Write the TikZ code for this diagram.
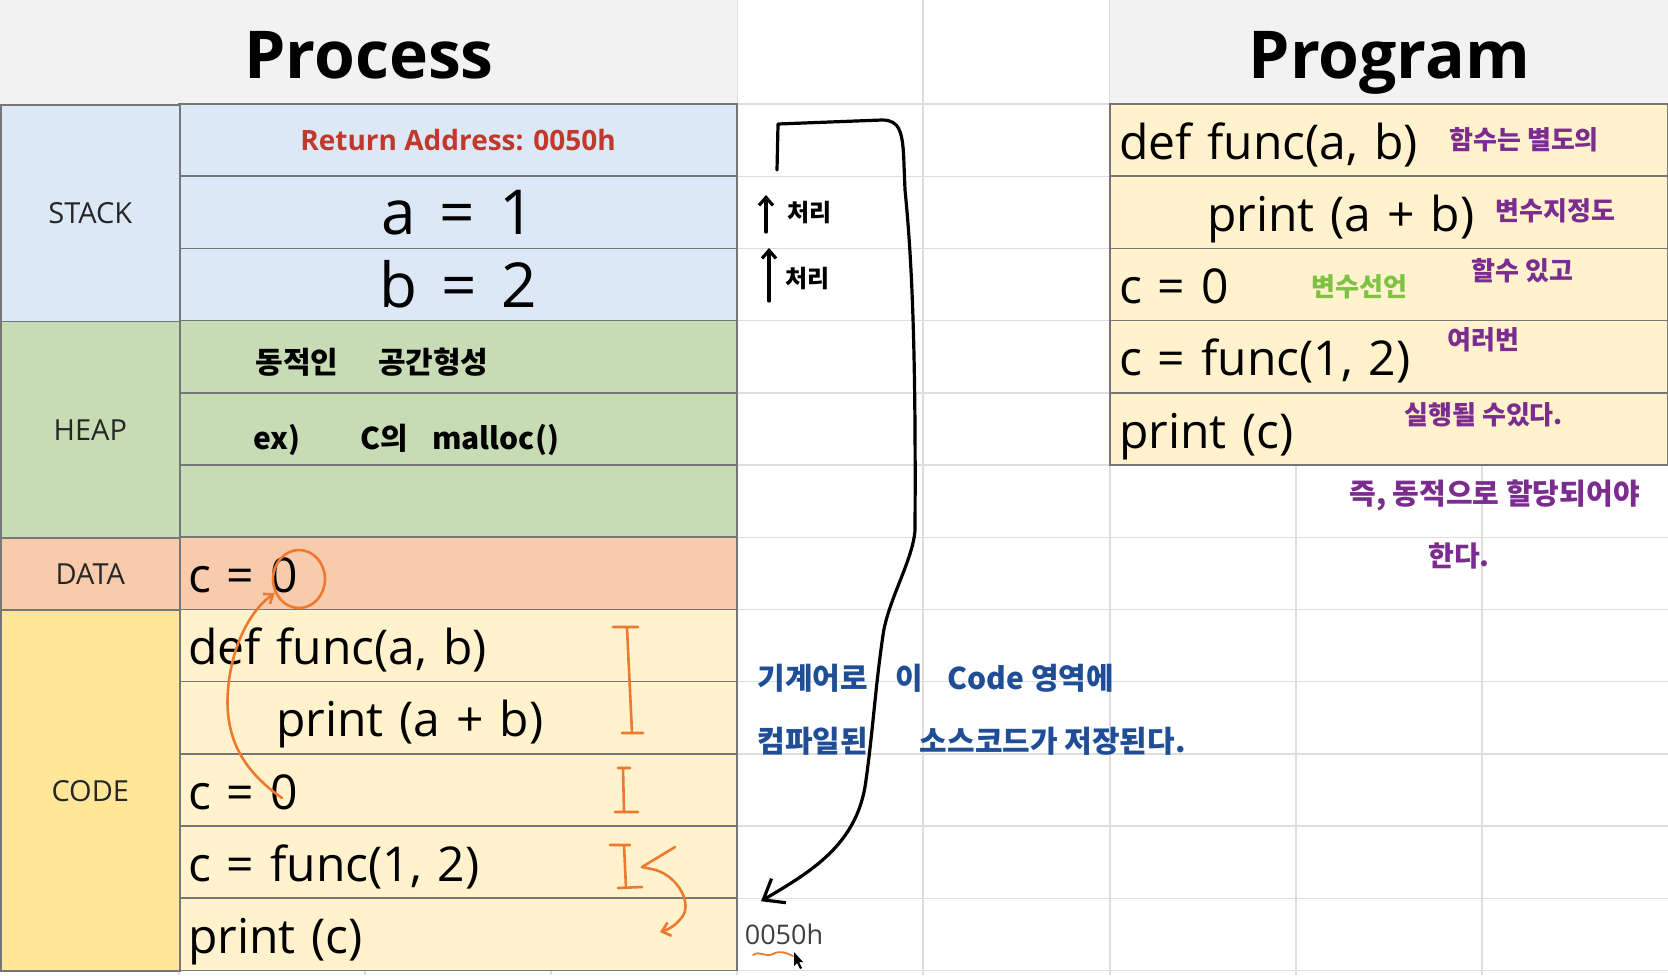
\documentclass[tikz,border=0pt]{standalone}
\usepackage{fontspec}
\setmainfont{Open Sans}
\newfontfamily\kor{Noto Sans CJK KR}
\usetikzlibrary{shapes.geometric, arrows.meta}

\definecolor{hdrgray}{HTML}{F2F2F2}
\definecolor{stackblue}{HTML}{DDE8F7}
\definecolor{heapgreen}{HTML}{C7DBB4}
\definecolor{dataorange}{HTML}{F8CBAD}
\definecolor{codegold}{HTML}{FFE699}
\definecolor{cream}{HTML}{FFF2CC}
\definecolor{cellline}{HTML}{767676}
\definecolor{sheetgray}{HTML}{DEDEDE}
\definecolor{retred}{HTML}{C0392B}
\definecolor{penorange}{HTML}{EC7A30}
\definecolor{penblue}{HTML}{1F4E96}
\definecolor{penpurple}{HTML}{7B2C8F}
\definecolor{pengreen}{HTML}{7DC243}

\tikzstyle{sheetline} = [draw=sheetgray, line width=0.7pt]
\tikzstyle{cell} = [rectangle, draw=cellline, line width=0.8pt, minimum width=279pt, minimum height=36.1pt, inner sep=0pt, outer sep=0pt]
\tikzstyle{stackcell} = [cell, fill=stackblue]
\tikzstyle{heapcell} = [cell, fill=heapgreen]
\tikzstyle{codecell} = [cell, fill=cream, text width=270pt, align=left, inner xsep=4.5pt, text height=25.2pt, text depth=6pt, font=\fontsize{24}{28}\selectfont]
\tikzstyle{lbl} = [rectangle, draw=cellline, line width=0.8pt, minimum width=89.5pt, inner sep=0pt, text=black!85, font=\fontsize{14.5}{16}\selectfont]
\tikzstyle{hdr} = [rectangle, fill=hdrgray, minimum height=52pt, inner sep=0pt, text height=33pt, text depth=7.3pt, font=\bfseries\fontsize{33}{36}\selectfont]
\tikzstyle{ink} = [inner sep=0pt, anchor=west, font=\kor\bfseries\fontsize{15}{17}\selectfont]
\tikzstyle{note} = [ink, text=penpurple, font=\kor\bfseries\fontsize{13}{15}\selectfont]
\tikzstyle{pen} = [line width=1.6pt, line cap=round, line join=round]
\tikzstyle{orangepen} = [pen, draw=penorange, line width=1.3pt]

\begin{document}
\begin{tikzpicture}[x=0.5pt, y=-0.5pt, node distance=36.1pt]
	\clip (0,0) rectangle (1668,975);
	\fill[white] (0,0) rectangle (1668,975);
	% spreadsheet grid
	\foreach \ry in {0,...,12}
		\draw[sheetline] (0,{104+72.2*\ry}) -- (1668,{104+72.2*\ry});
	\foreach \cx in {179,365,551,737,923,1110,1296,1482}
		\draw[sheetline] (\cx,0) -- (\cx,975);

	% process side
	\node (proc) [hdr, minimum width=368.5pt, anchor=north west] at (0,0) {Process};
	\node (ret) [stackcell, anchor=north west, text=retred, font=\bfseries\fontsize{14}{16}\selectfont] at (179,104) {Return Address: 0050h};
	\node (vara) [stackcell, below of=ret, font=\fontsize{31}{34}\selectfont] {a\hspace{12pt}=\hspace{12pt}1};
	\node (varb) [stackcell, below of=vara, font=\fontsize{31}{34}\selectfont] {b\hspace{12pt}=\hspace{12pt}2};
	\node (heap1) [heapcell, below of=varb] {};
	\node (heap2) [heapcell, below of=heap1] {};
	\node (heap3) [heapcell, below of=heap2] {};
	\node (datac) [codecell, fill=dataorange, below of=heap3] {c = 0};
	\node (code1) [codecell, below of=datac] {def func(a, b)};
	\node (code2) [codecell, below of=code1] {\hspace*{44pt}print (a + b)};
	\node (code3) [codecell, below of=code2] {c = 0};
	\node (code4) [codecell, below of=code3] {c = func(1, 2)};
	\node (code5) [codecell, below of=code4] {print (c)};

	\node (stack) [lbl, fill=stackblue, minimum height=108.3pt, anchor=north west] at (0,104) {STACK};
	\node (heap) [lbl, fill=heapgreen, minimum height=108.3pt, anchor=north west] at (0,320.6) {HEAP};
	\node (data) [lbl, fill=dataorange, minimum height=36.1pt, anchor=north west] at (0,537.2) {DATA};
	\node (code) [lbl, fill=codegold, minimum height=180.5pt, anchor=north west] at (0,609.4) {CODE};

	% program side
	\node (prog) [hdr, minimum width=279pt, anchor=north west] at (1110,0) {Program};
	\node (pcode1) [codecell, anchor=north west] at (1110,104) {def func(a, b)};
	\node (pcode2) [codecell, below of=pcode1] {\hspace*{44pt}print (a + b)};
	\node (pcode3) [codecell, below of=pcode2] {c = 0};
	\node (pcode4) [codecell, below of=pcode3] {c = func(1, 2)};
	\node (pcode5) [codecell, below of=pcode4] {print (c)};

	% handwritten notes
	\node (dyn) [ink] at (255,362) {동적인\hspace{20pt}공간형성};
	\node (malloc) [ink] at (253,440) {ex)\hspace{30pt}C의\hspace{12pt}malloc()};
	\node (cheo1) [ink, font=\kor\bfseries\fontsize{12}{14}\selectfont] at (787,213) {처리};
	\node (cheo2) [ink, font=\kor\bfseries\fontsize{12}{14}\selectfont] at (785,279) {처리};
	\node (blue1) [ink, text=penblue] at (757,678) {기계어로\hspace{14pt}이\hspace{12pt}Code 영역에};
	\node (blue2) [ink, text=penblue] at (757,741) {컴파일된\hspace{26pt}소스코드가 저장된다.};
	\node (note1) [note] at (1449,140) {함수는 별도의};
	\node (note2) [note] at (1495,211) {변수지정도};
	\node (note3) [note] at (1471,271) {할수 있고};
	\node (note4) [note] at (1447,340) {여러번};
	\node (note5) [note] at (1404,415) {실행될 수있다.};
	\node (note6) [note, font=\kor\bfseries\fontsize{14.5}{16}\selectfont] at (1349,495) {즉, 동적으로 할당되어야};
	\node (note7) [note, font=\kor\bfseries\fontsize{14}{16}\selectfont] at (1428,556) {한다.};
	\node (decl) [note, text=pengreen] at (1311,287) {변수선언};

	\node (addr) [inner sep=0pt, text=black!75, font=\fontsize{13.5}{15}\selectfont] at (784,934) {0050h};

	% return jump
	\coordinate (callsite) at (777,170);
	\draw[pen, -{Straight Barb[length=9pt,width=14pt]}] (callsite) -- (778,124) -- (882,120)
		.. controls (900,120) and (903,132) .. (904,165) -- (905,190)
		.. controls (912,260) and (916,350) .. (915,530)
		.. controls (913,560) and (888,600) .. (883,635)
		.. controls (875,690) and (873,730) .. (866,780)
		.. controls (858,845) and (810,872) .. ([shift={(-23,-22)}]addr.north);
	\draw[pen, -{Straight Barb[length=4pt,width=7pt]}] ([shift={(-21,19)}]cheo1.west) -- ([shift={(-21,-18)}]cheo1.west);
	\draw[pen, -{Straight Barb[length=4pt,width=7pt]}] ([shift={(-16,22)}]cheo2.west) -- ([shift={(-16,-31)}]cheo2.west);

	% orange marks
	\node (zero) [ellipse, draw=penorange, line width=1.3pt, minimum width=26pt, minimum height=29pt, inner sep=0pt] at (299,579) {};
	\coordinate (czero) at (282,798);
	\draw[orangepen, -{Straight Barb[length=4pt,width=6pt]}] (czero) .. controls (245,772) and (224,740) .. (228,690)
		.. controls (231,650) and (248,612) .. (zero.210);
	\draw[orangepen] (613,627) -- (638,627) (627,628) -- (632,733) (622,733) -- (643,733);
	\draw[orangepen] (618,768) -- (630,768) (623,768) -- (624,812) (615,812) -- (638,812);
	\draw[orangepen] (610,845) -- (630,845) (624,845) -- (626,888) (618,888) -- (642,887);
	\coordinate (callmark) at (675,847);
	\coordinate (retmark) at (660,932);
	\draw[orangepen, -{Straight Barb[length=4pt,width=7pt]}] (callmark) -- (642,867) -- (656,870)
		.. controls (680,878) and (692,905) .. (682,917)
		.. controls (677,924) and (670,929) .. (retmark);
	\draw[orangepen, line width=0.9pt] (753,955) .. controls (760,950) and (765,958) .. (773,954)
		.. controls (780,950) and (787,953) .. (793,956);
	\fill[black] (794,952) -- (794,966) -- (797,963) -- (800,969) -- (802,968) -- (799,962) -- (803,962) -- cycle;
\end{tikzpicture}
\end{document}
